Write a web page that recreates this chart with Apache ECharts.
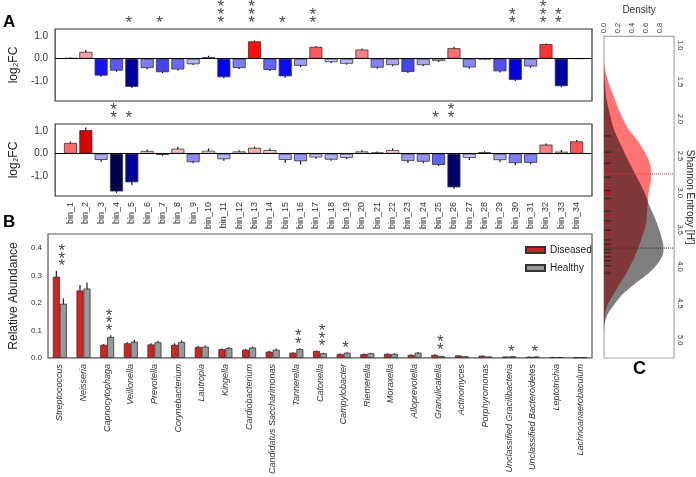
<!DOCTYPE html>
<html><head><meta charset="utf-8">
<script src="https://cdn.jsdelivr.net/npm/echarts@6/dist/echarts.min.js"></script>
<style>html,body{margin:0;padding:0;background:#fff}#c{width:696px;height:477px}</style>
</head><body><div id="c"></div>
<script>
// ---------- DATA ----------
const bins = ['bin_1','bin_2','bin_3','bin_4','bin_5','bin_6','bin_7','bin_8','bin_9','bin_10','bin_11','bin_12','bin_13','bin_14','bin_15','bin_16','bin_17','bin_18','bin_19','bin_20','bin_21','bin_22','bin_23','bin_24','bin_25','bin_26','bin_27','bin_28','bin_29','bin_30','bin_31','bin_32','bin_33','bin_34'];
const fcTop = [0.03,0.30,-0.74,-0.52,-1.23,-0.41,-0.59,-0.47,-0.24,0.07,-0.81,-0.41,0.76,-0.49,-0.77,-0.31,0.52,-0.15,-0.22,0.40,-0.39,-0.28,-0.58,-0.28,-0.10,0.46,-0.38,-0.02,-0.55,-0.93,-0.34,0.64,-1.20,0.01];
const fcTopErr = [0.03,0.08,0.05,0.05,0.05,0.05,0.04,0.05,0.04,0.06,0.05,0.04,0.04,0.05,0.06,0.06,0.04,0.04,0.04,0.05,0.05,0.05,0.05,0.05,0.04,0.06,0.06,0.03,0.05,0.05,0.05,0.03,0.05,0.02];
const sigTop = ['','','','','*','','*','','','','***','','***','','*','','**','','','','','','','','','','','','','**','','***','**',''];
const fcBot = [0.47,1.03,-0.27,-1.65,-1.25,0.12,-0.05,0.22,-0.37,0.13,-0.24,0.10,0.26,0.16,-0.27,-0.33,-0.16,-0.26,-0.18,0.10,0.06,0.16,-0.32,-0.35,-0.49,-1.47,-0.18,0.07,-0.28,-0.41,-0.40,0.40,0.09,0.54];
const fcBotErr = [0.06,0.12,0.08,0.06,0.13,0.06,0.04,0.08,0.05,0.10,0.07,0.05,0.05,0.07,0.13,0.15,0.06,0.05,0.05,0.05,0.04,0.07,0.09,0.07,0.05,0.06,0.09,0.04,0.08,0.10,0.06,0.05,0.07,0.06];
const sigBot = ['','','','**','*','','','','','','','','','','','','','','','','','','','','*','**','','','','','','','',''];
const fcTicks = [-1, 0, 1];

const genera = ['Streptococcus','Neisseria','Capnocytophaga','Veillonella','Prevotella','Corynebacterium','Lautropia','Kingella','Cardiobacterium','Candidatus Saccharimonas','Tannerella','Catonella','Campylobacter','Riemerella','Moraxella','Alloprevotella','Granulicatella','Actinomyces','Porphyromonas','Unclassified Gracilibacteria','Unclassified Bacteroidetes','Leptotrichia','Lachnoanaerobaculum'];
const diseased = [0.295,0.245,0.048,0.053,0.049,0.048,0.040,0.032,0.030,0.023,0.019,0.025,0.014,0.014,0.015,0.011,0.011,0.009,0.008,0.005,0.004,0.003,0.002];
const diseasedErr = [0.022,0.020,0.003,0.004,0.004,0.005,0.003,0.002,0.002,0.003,0.002,0.002,0.002,0.002,0.002,0.002,0.002,0.001,0.001,0.001,0.001,0.001,0.001];
const healthy = [0.197,0.252,0.076,0.059,0.057,0.058,0.041,0.036,0.038,0.030,0.032,0.017,0.019,0.017,0.015,0.019,0.007,0.006,0.005,0.006,0.005,0.003,0.002];
const healthyErr = [0.020,0.022,0.006,0.007,0.005,0.005,0.004,0.003,0.003,0.004,0.003,0.002,0.002,0.002,0.002,0.003,0.001,0.001,0.001,0.001,0.001,0.001,0.001];
const sigGenera = ['***','','***','','','','','','','','**','***','*','','','','**','','','*','*','',''];
const abundanceTicks = [0, 0.1, 0.2, 0.3, 0.4];

const entropyDiseased = [1.15,1.26,1.48,1.70,1.92,2.14,2.31,2.48,2.66,2.83,2.98,3.20,3.42,3.64,3.86,4.07,4.29,4.51,4.64,4.80];
const densityDiseased = [0,0.0,0.055,0.14,0.23,0.35,0.49,0.60,0.67,0.67,0.64,0.62,0.60,0.53,0.44,0.33,0.19,0.055,0.015,0];
const entropyHealthy = [1.20,1.48,1.70,1.92,2.14,2.35,2.57,2.79,3.00,3.16,3.33,3.51,3.68,3.77,3.86,3.99,4.12,4.25,4.38,4.51,4.64,4.77,4.95];
const densityHealthy = [0,0.01,0.03,0.08,0.14,0.24,0.35,0.47,0.58,0.64,0.72,0.79,0.84,0.85,0.83,0.74,0.60,0.42,0.26,0.15,0.055,0.01,0];
const meanDiseased = 2.745, meanHealthy = 3.75;
const rugDiseased = [1.99,2.06,2.23,2.48,2.55,2.62,2.68,2.75,2.88,2.94,3.01,3.02,3.15,3.31,3.41,3.55,3.68,3.74,3.86,4.07];
const rugHealthy = [2.23,2.45,2.60,2.79,2.97,3.08,3.25,3.38,3.51,3.64,3.70,3.77,3.81,3.87,3.92,3.99,4.09];
const densityTicks = [0, 0.2, 0.4, 0.6, 0.8];
const entropyTicks = [1.0,1.5,2.0,2.5,3.0,3.5,4.0,4.5,5.0];

// ---------- STYLE ----------
const FONT = '"Liberation Sans", Arial, Helvetica, sans-serif';
const A_MIN = -1.85, A_MAX = 1.3;
function seismic(v, vmax) {
  const t = Math.max(-1, Math.min(1, v / vmax)) * 0.5 + 0.5;
  const st = [[0,[0,0,0.3]],[0.25,[0,0,1]],[0.5,[1,1,1]],[0.75,[1,0,0]],[1,[0.5,0,0]]];
  for (let i = 0; i < st.length - 1; i++) {
    if (t <= st[i+1][0]) {
      const f = (t - st[i][0]) / (st[i+1][0] - st[i][0]);
      const c = st[i][1].map((a, k) => Math.round(255 * (a + (st[i+1][1][k] - a) * f)));
      return 'rgb(' + c.join(',') + ')';
    }
  }
  return 'rgb(128,0,0)';
}
const starLabel = (dist, off) => ({
  show: true, position: 'top', distance: dist, offset: off,
  formatter: p => p.data[2].split('').join('\n'),
  fontSize: 17, lineHeight: 7.7, color: '#111', fontFamily: FONT
});

function fcSeries(idx, vals, errs, sig) {
  return [
    { type: 'bar', xAxisIndex: idx, yAxisIndex: idx, barWidth: 13, silent: true,
      data: vals.map((v, i) => ({ value: [i + 1, v], itemStyle: { color: seismic(v, 1.6) } })),
      itemStyle: { borderColor: '#333', borderWidth: 0.8 },
      markLine: { silent: true, symbol: 'none', label: { show: false },
        lineStyle: { color: '#000', width: 1.2, type: 'solid' }, data: [{ yAxis: 0 }] } },
    { type: 'custom', xAxisIndex: idx, yAxisIndex: idx, silent: true,
      data: vals.map((v, i) => [i + 1, v, errs[i]]),
      renderItem(params, api) {
        const x = api.value(0), v = api.value(1), e = api.value(2);
        const a = api.coord([x, v - e]), b = api.coord([x, v + e]);
        return { type: 'line', shape: { x1: a[0], y1: a[1], x2: b[0], y2: b[1] }, style: { stroke: '#111', lineWidth: 1.2 } };
      } },
    { type: 'scatter', xAxisIndex: idx, yAxisIndex: idx, silent: true, clip: false, symbolSize: 0.1,
      itemStyle: { color: 'rgba(0,0,0,0)' },
      data: vals.map((v, i) => [i + 1, A_MAX, sig[i]]).filter(d => d[2]),
      label: starLabel(2, [-3, 0]) }
  ];
}

function densityPoly(H, D, color, opacity) {
  return { type: 'custom', xAxisIndex: 3, yAxisIndex: 3, silent: true, clip: true,
    data: H.map((h, i) => [D[i], h]),
    renderItem(params, api) {
      if (params.dataIndex !== 0) return null;
      const pts = H.map((h, i) => api.coord([D[i], h]));
      pts.unshift(api.coord([0, H[0]]));
      pts.push(api.coord([0, H[H.length - 1]]));
      let minx = Infinity, miny = Infinity, maxx = -Infinity, maxy = -Infinity;
      pts.forEach(p => { minx = Math.min(minx, p[0]); maxx = Math.max(maxx, p[0]); miny = Math.min(miny, p[1]); maxy = Math.max(maxy, p[1]); });
      return { type: 'polygon', shape: { points: pts, smooth: 0.3, smoothConstraint: [[minx, miny], [maxx, maxy]] },
        style: { fill: color, opacity: opacity } };
    } };
}

const axisOff = { axisLine: { show: false }, axisTick: { show: false }, splitLine: { show: false } };
const lblBase = { color: '#333', fontFamily: FONT };

const option = {
  animation: false,
  textStyle: { fontFamily: FONT },
  graphic: [
    { type: 'text', left: 3, top: 14, style: { text: 'A', font: 'bold 17px ' + FONT, fill: '#000' } },
    { type: 'text', left: 3, top: 214, style: { text: 'B', font: 'bold 17px ' + FONT, fill: '#000' } },
    { type: 'text', left: 633, top: 360, style: { text: 'C', font: 'bold 18px ' + FONT, fill: '#000' } }
  ],
  legend: { data: ['Diseased', 'Healthy'], orient: 'vertical', left: 520, top: 240, itemWidth: 19, itemHeight: 6, itemGap: 8,
    icon: 'rect', textStyle: { fontSize: 10, color: '#222', fontFamily: FONT }, selectedMode: false },
  grid: [
    { left: 36, top: 29, width: 556, height: 72, show: true, borderColor: '#333', borderWidth: 1.2, backgroundColor: 'transparent' },
    { left: 36, top: 124, width: 556, height: 72, show: true, borderColor: '#333', borderWidth: 1.2, backgroundColor: 'transparent' },
    { left: 35, top: 234, width: 557, height: 125, show: true, borderColor: '#555', borderWidth: 1.2, backgroundColor: 'transparent' },
    { left: 604, top: 29, width: 74, height: 329, show: true, borderColor: '#aaa', borderWidth: 1.2, backgroundColor: 'transparent' }
  ],
  xAxis: [
    Object.assign({ gridIndex: 0, type: 'value', min: 0, max: 35, axisLabel: { show: false } }, axisOff),
    Object.assign({ gridIndex: 1, type: 'value', min: 0, max: 35,
      axisLabel: Object.assign({ customValues: bins.map((b, i) => i + 1), formatter: v => bins[Math.round(v) - 1] || '', rotate: 90, fontSize: 9, margin: 6 }, lblBase) }, axisOff),
    Object.assign({ gridIndex: 2, type: 'category', data: genera,
      axisLabel: Object.assign({ interval: 0, rotate: 90, fontSize: 9, fontStyle: 'italic', margin: 6 }, lblBase) }, axisOff),
    Object.assign({ gridIndex: 3, type: 'value', min: 0, max: 1, position: 'top',
      name: 'Density', nameLocation: 'middle', nameGap: 16, nameTextStyle: { fontSize: 10, color: '#333', fontFamily: FONT },
      axisLabel: Object.assign({ customValues: densityTicks, formatter: v => v.toFixed(1), rotate: -90, fontSize: 7.5, margin: 3 }, lblBase) }, axisOff)
  ],
  yAxis: [
    Object.assign({ gridIndex: 0, type: 'value', min: A_MIN, max: A_MAX, name: 'log₂FC', nameLocation: 'middle', nameGap: 25,
      nameTextStyle: { fontSize: 12, color: '#222', fontFamily: FONT },
      axisLabel: Object.assign({ customValues: fcTicks, formatter: v => v.toFixed(1), fontSize: 10, margin: 7 }, lblBase) }, axisOff),
    Object.assign({ gridIndex: 1, type: 'value', min: A_MIN, max: A_MAX, name: 'log₂FC', nameLocation: 'middle', nameGap: 25,
      nameTextStyle: { fontSize: 12, color: '#222', fontFamily: FONT },
      axisLabel: Object.assign({ customValues: fcTicks, formatter: v => v.toFixed(1), fontSize: 10, margin: 7 }, lblBase) }, axisOff),
    Object.assign({ gridIndex: 2, type: 'value', min: 0, max: 0.45, name: 'Relative Abundance', nameLocation: 'middle', nameGap: 23,
      nameTextStyle: { fontSize: 12, color: '#222', fontFamily: FONT },
      axisLabel: Object.assign({ customValues: abundanceTicks, formatter: v => v.toFixed(1), fontSize: 8, margin: 6 }, lblBase) }, axisOff),
    Object.assign({ gridIndex: 3, type: 'value', min: 0.88, max: 5.24, inverse: true, position: 'right',
      name: "Shannon Entropy [H']", nameLocation: 'middle', nameGap: 10, nameRotate: -90,
      nameTextStyle: { fontSize: 10, color: '#222', fontFamily: FONT },
      axisLabel: Object.assign({ customValues: entropyTicks, formatter: v => v.toFixed(1), rotate: -90, fontSize: 7.5, margin: 2 }, lblBase) }, axisOff)
  ],
  series: [
    ...fcSeries(0, fcTop, fcTopErr, sigTop),
    ...fcSeries(1, fcBot, fcBotErr, sigBot),
    { type: 'bar', name: 'Diseased', xAxisIndex: 2, yAxisIndex: 2, data: diseased, barWidth: 7, barGap: '0%', silent: true,
      itemStyle: { color: '#dd1f1f', borderColor: '#333', borderWidth: 0.8 } },
    { type: 'bar', name: 'Healthy', xAxisIndex: 2, yAxisIndex: 2, data: healthy, barWidth: 7, barGap: '0%', silent: true,
      itemStyle: { color: '#999999', borderColor: '#333', borderWidth: 0.8 } },
    { type: 'custom', xAxisIndex: 2, yAxisIndex: 2, silent: true,
      data: genera.map((g, i) => [i, diseased[i], diseasedErr[i], healthy[i], healthyErr[i]]),
      renderItem(params, api) {
        const i = api.value(0);
        const mk = (v, e, dx) => {
          const a = api.coord([i, v - e]), b = api.coord([i, v + e]);
          return { type: 'line', shape: { x1: a[0] + dx, y1: a[1], x2: b[0] + dx, y2: b[1] }, style: { stroke: '#222', lineWidth: 1.2 } };
        };
        return { type: 'group', children: [mk(api.value(1), api.value(2), -3.5), mk(api.value(3), api.value(4), 3.5)] };
      } },
    { type: 'scatter', xAxisIndex: 2, yAxisIndex: 2, silent: true, clip: false, symbolSize: 0.1,
      itemStyle: { color: 'rgba(0,0,0,0)' },
      data: genera.map((g, i) => [i, Math.max(diseased[i] + diseasedErr[i], healthy[i] + healthyErr[i]), sigGenera[i]]).filter(d => d[2]),
      label: starLabel(0, [2, 0]) },
    densityPoly(entropyDiseased, densityDiseased, '#ff7373', 1),
    densityPoly(entropyHealthy, densityHealthy, '#000000', 0.5),
    { type: 'scatter', xAxisIndex: 3, yAxisIndex: 3, silent: true, symbol: 'rect', symbolSize: [7, 1.2], symbolOffset: [3.5, 0],
      itemStyle: { color: '#cc1010' }, data: rugDiseased.map(h => [0, h]) },
    { type: 'scatter', xAxisIndex: 3, yAxisIndex: 3, silent: true, symbol: 'rect', symbolSize: [7, 1.2], symbolOffset: [3.5, 0],
      itemStyle: { color: '#222' }, data: rugHealthy.map(h => [0, h]) },
    { type: 'line', xAxisIndex: 3, yAxisIndex: 3, silent: true, symbol: 'none',
      lineStyle: { color: '#ee3333', width: 1, type: 'dotted' }, data: [[0, meanDiseased], [1, meanDiseased]] },
    { type: 'line', xAxisIndex: 3, yAxisIndex: 3, silent: true, symbol: 'none',
      lineStyle: { color: '#333', width: 1, type: 'dotted' }, data: [[0, meanHealthy], [1, meanHealthy]] }
  ]
};
const chart = echarts.init(document.getElementById('c'), null, { renderer: 'canvas' });
chart.setOption(option);
</script>
</body></html>
